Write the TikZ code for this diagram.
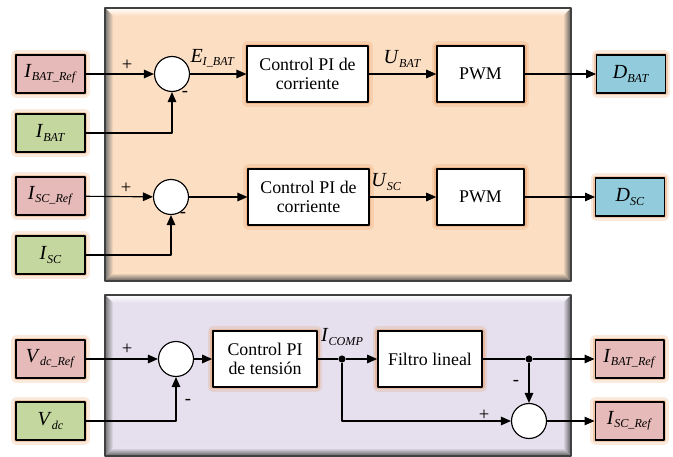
\documentclass[tikz,border=0pt]{standalone}
\usepackage{fontspec}
\setmainfont{Liberation Serif}
\usetikzlibrary{arrows.meta,positioning}
\definecolor{rosa}{RGB}{230,186,184}
\definecolor{verde}{RGB}{196,215,158}
\definecolor{celeste}{RGB}{146,204,220}
\definecolor{durazno}{RGB}{252,222,194}
\definecolor{lila}{RGB}{230,224,238}
\definecolor{sombra}{RGB}{228,148,92}
%% senal con subindice
\newcommand{\senal}[2]{{\fontsize{14}{16}\selectfont\textit{#1}}\raisebox{-0.4ex}{\fontsize{8.5}{10}\selectfont\textit{#2}}}
%% marco con bisel: x1 y1 x2 y2 color
\newcommand{\marco}[5]{%
  \fill[#5] (#1,#2) rectangle (#3,#4);
  \shade[top color=white, bottom color=#5] (#1,#2)--(#3,#2)--(#3-8,#2+8)--(#1+8,#2+8)--cycle;
  \shade[left color=black!55, right color=#5] (#1,#2)--(#1+8,#2+8)--(#1+8,#4-8)--(#1,#4)--cycle;
  \shade[left color=#5, right color=black!65] (#3,#2)--(#3,#4)--(#3-8,#4-8)--(#3-8,#2+8)--cycle;
  \shade[top color=#5, bottom color=black!65] (#1,#4)--(#3,#4)--(#3-8,#4-8)--(#1+8,#4-8)--cycle;
  \draw[black!75, line width=1.6pt] (#1,#2) rectangle (#3,#4);}
\begin{document}
\begin{tikzpicture}[x=0.7pt,y=-0.7pt,font=\fontsize{12.5}{13.5}\selectfont, line join=round, >={Triangle[length=7pt,width=6pt]},
  brillo/.style={preaction={draw=sombra,line width=7pt,opacity=0.2},preaction={draw=sombra,line width=3.5pt,opacity=0.4}},
  bloque/.style={draw, line width=1pt, fill=white, align=center, minimum height=39pt, brillo},
  entrada/.style={draw, line width=1pt, minimum width=48pt, minimum height=26.5pt, brillo},
  suma/.style={circle, draw, line width=0.8pt, fill=white, minimum size=24.5pt, inner sep=0pt},
  punto/.style={circle, fill, inner sep=0pt, minimum size=5pt},
  signo/.style={inner sep=0pt, font=\fontsize{13}{14}\selectfont},
  every path/.style={line width=0.8pt}]
\useasboundingbox (0,0) rectangle (673,457);
%% paneles
\marco{105}{8}{571}{281}{durazno}
\marco{105}{295}{571}{456}{lila}
%% lazo de corriente
\node[entrada, fill=rosa] (ibatref) at (50.5,74) {\senal{I}{BAT\_Ref}};
\node[entrada, fill=verde] (ibat) at (50.5,133) {\senal{I}{BAT}};
\node[entrada, fill=rosa] (iscref) at (50.5,196) {\senal{I}{SC\_Ref}};
\node[entrada, fill=verde] (isc) at (50.5,255) {\senal{I}{SC}};
\node[suma] (s1) at (172,74) {};
\node[suma] (s2) at (171,197) {};
\node[bloque, minimum width=84.5pt] (pi1) at (307.5,74) {Control PI de\\corriente};
\node[bloque, minimum width=84.5pt] (pi2) at (308.5,197) {Control PI de\\corriente};
\node[bloque, minimum width=61pt] (pwm1) at (480.5,74) {PWM};
\node[bloque, minimum width=61pt] (pwm2) at (480.5,197) {PWM};
\node[entrada, fill=celeste] (dbat) at (631,74) {\senal{D}{BAT}};
\node[entrada, fill=celeste] (dsc) at (630,197) {\senal{D}{SC}};
\node[signo] (mas1) at (127,65) {+};
\node[signo] (menos1) at (185,94) {-};
\node[signo] (mas2) at (126,188) {+};
\node[signo] (menos2) at (183,215) {-};
\draw[->] (ibatref) -- (s1);
\draw[->] (ibat) -| (s1);
\draw[->] (s1) -- node[above=1pt, pos=0.4] (ebat) {\senal{E}{I\_BAT}} (pi1);
\draw[->] (pi1) -- node[above=1pt] (ubat) {\senal{U}{BAT}} (pwm1);
\draw[->] (pwm1) -- (dbat);
\draw[->] (iscref) -- (s2);
\draw[->] (isc) -| (s2);
\draw[->] (s2) -- (pi2);
\draw[->] (pi2) -- node[above=1pt, pos=0.25] (usc) {\senal{U}{SC}} (pwm2);
\draw[->] (pwm2) -- (dsc);
%% lazo de tension
\node[entrada, fill=rosa] (vdcref) at (50.5,359) {\senal{V}{dc\_Ref}};
\node[entrada, fill=verde] (vdc) at (50.5,421) {\senal{V}{dc}};
\node[suma] (s3) at (176,359) {};
\node[bloque, minimum width=73pt] (pit) at (265,359) {Control PI\\de tensión};
\node[punto] (comp) at (342,359) {};
\node[bloque, minimum width=73pt] (filtro) at (430,359) {Filtro lineal};
\node[punto] (bif) at (529,359) {};
\node[suma] (s4) at (529,421) {};
\node[entrada, fill=rosa] (ibatref2) at (629.5,359) {\senal{I}{BAT\_Ref}};
\node[entrada, fill=rosa] (iscref2) at (629.5,421) {\senal{I}{SC\_Ref}};
\node[above=3pt of comp] (lcomp) {\senal{I}{COMP}};
\node[signo] (mas3) at (127,349) {+};
\node[signo] (menos3) at (188,402) {-};
\node[signo] (menos4) at (516,383) {-};
\node[signo] (mas4) at (484,415) {+};
\draw[->] (vdcref) -- (s3);
\draw[->] (vdc) -| (s3);
\draw[->] (s3) -- (pit);
\draw (pit) -- (comp);
\draw[->] (comp) -- (filtro);
\draw (filtro) -- (bif);
\draw[->] (bif) -- (ibatref2);
\draw[->] (bif) -- (s4);
\draw[->] (comp) |- (s4);
\draw[->] (s4) -- (iscref2);
\end{tikzpicture}
\end{document}
